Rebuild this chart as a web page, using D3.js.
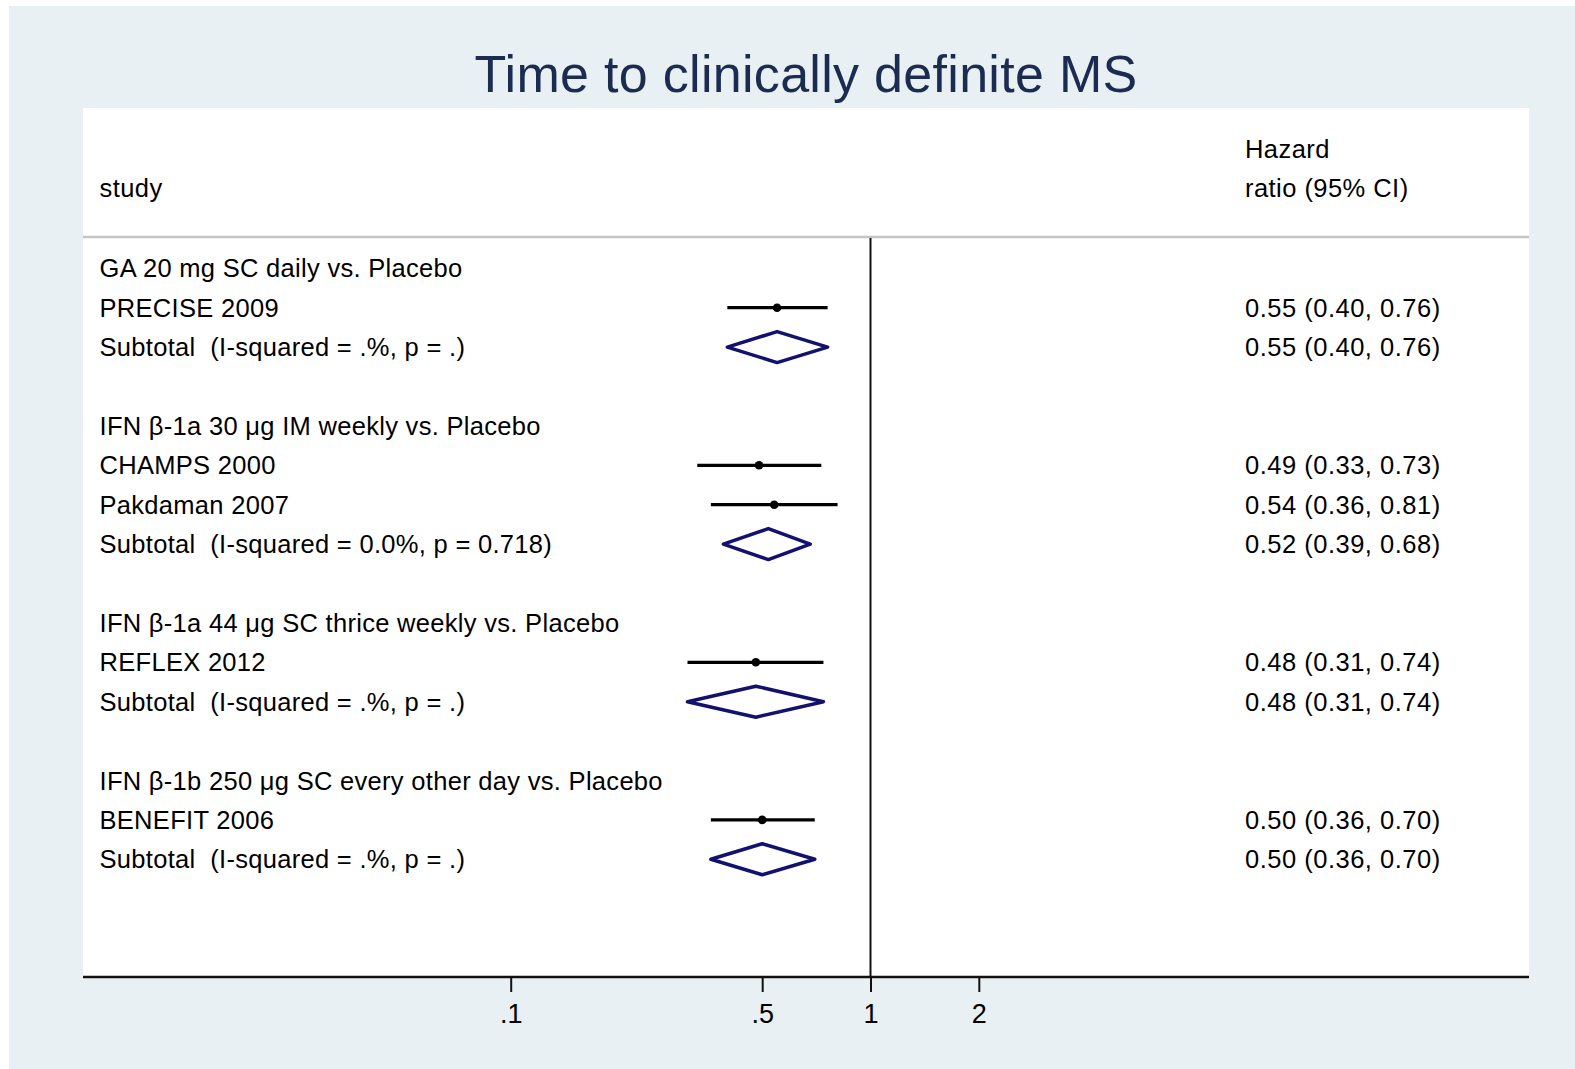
<!DOCTYPE html>
<html>
<head>
<meta charset="utf-8">
<script src="https://cdn.jsdelivr.net/npm/d3@7"></script>
<style>
  body { margin: 0; background: #fff; }
  text { font-family: "Liberation Sans", Arial, sans-serif; white-space: pre; }
</style>
</head>
<body>
<div id="chart"></div>
<script>
var width = 1575,
    height = 1069;

// data
var groups = [
  "GA 20 mg SC daily vs. Placebo",
  "IFN β-1a 30 μg IM weekly vs. Placebo",
  "IFN β-1a 44 μg SC thrice weekly vs. Placebo",
  "IFN β-1b 250 μg SC every other day vs. Placebo"
];
var studies   = ["PRECISE 2009", "CHAMPS 2000", "Pakdaman 2007", "REFLEX 2012", "BENEFIT 2006"];
var studyGrp  = [0, 1, 1, 2, 3];
var studyHR   = [0.55, 0.49, 0.54, 0.48, 0.50];
var studyLo   = [0.40, 0.33, 0.36, 0.31, 0.36];
var studyHi   = [0.76, 0.73, 0.81, 0.74, 0.70];
var subLabels = [
  "Subtotal  (I-squared = .%, p = .)",
  "Subtotal  (I-squared = 0.0%, p = 0.718)",
  "Subtotal  (I-squared = .%, p = .)",
  "Subtotal  (I-squared = .%, p = .)"
];
var subHR = [0.55, 0.52, 0.48, 0.50];
var subLo = [0.40, 0.39, 0.31, 0.36];
var subHi = [0.76, 0.68, 0.74, 0.70];
var tickValues = [0.1, 0.5, 1, 2];
var tickLabels = [".1", ".5", "1", "2"];

// build the list of rows
var rows = [], r = 0;
groups.forEach(function(g, gi) {
  rows.push({type: "head", label: g, row: r++});
  studies.forEach(function(s, si) {
    if (studyGrp[si] === gi)
      rows.push({type: "study", label: s, hr: studyHR[si], lo: studyLo[si], hi: studyHi[si], row: r++});
  });
  rows.push({type: "sub", label: subLabels[gi], hr: subHR[gi], lo: subLo[gi], hi: subHi[gi], row: r++});
  r++; // blank line
});

var fmt = d3.format(".2f");

var plot = {left: 83, right: 1529, top: 108, header: 237, axis: 977};

var x = d3.scaleLog()
    .domain([0.1, 1])
    .range([510.7, 870.5]);

var y = d3.scaleLinear()
    .domain([0, 15])
    .range([268.3, 268.3 + 15 * 39.4]);

var svg = d3.select("#chart").append("svg")
    .attr("width", width)
    .attr("height", height);

// background
svg.append("rect")
    .attr("x", 9).attr("y", 6)
    .attr("width", width - 9).attr("height", height - 6)
    .attr("fill", "#e8f0f3");

svg.append("rect")
    .attr("x", plot.left).attr("y", plot.top)
    .attr("width", plot.right - plot.left).attr("height", plot.axis - plot.top)
    .attr("fill", "#fff");

// title
svg.append("text")
    .attr("x", 806).attr("y", 92)
    .attr("text-anchor", "middle")
    .attr("font-size", 52)
    .attr("letter-spacing", 0.3)
    .attr("fill", "#1c2b50")
    .text("Time to clinically definite MS");

// header
var head = svg.append("g").attr("font-size", 25.5).attr("letter-spacing", 0.45).attr("fill", "#000");
head.append("text").attr("x", 99.5).attr("y", 197).text("study");
head.append("text").attr("x", 1245).attr("y", 158).text("Hazard");
head.append("text").attr("x", 1245).attr("y", 197).text("ratio (95% CI)");

svg.append("line")
    .attr("x1", plot.left).attr("x2", plot.right)
    .attr("y1", plot.header).attr("y2", plot.header)
    .attr("stroke", "#c4c4c4")
    .attr("stroke-width", 2.5);

// null line
svg.append("line")
    .attr("x1", x(1)).attr("x2", x(1))
    .attr("y1", plot.header + 1).attr("y2", plot.axis)
    .attr("stroke", "#111")
    .attr("stroke-width", 2);

// row labels
svg.append("g")
    .attr("font-size", 25.5)
    .attr("letter-spacing", 0.3)
  .selectAll("text")
    .data(rows)
  .enter().append("text")
    .attr("x", 99.5)
    .attr("y", function(d) { return y(d.row) + 9; })
    .text(function(d) { return d.label; });

// estimates column
svg.append("g")
    .attr("font-size", 25.5)
    .attr("letter-spacing", 0.5)
  .selectAll("text")
    .data(rows.filter(function(d) { return d.type !== "head"; }))
  .enter().append("text")
    .attr("x", 1245)
    .attr("y", function(d) { return y(d.row) + 9; })
    .text(function(d) { return fmt(d.hr) + " (" + fmt(d.lo) + ", " + fmt(d.hi) + ")"; });

// study CIs and points
var st = svg.append("g")
  .selectAll("g")
    .data(rows.filter(function(d) { return d.type === "study"; }))
  .enter().append("g");

st.append("line")
    .attr("x1", function(d) { return x(d.lo); })
    .attr("x2", function(d) { return x(d.hi); })
    .attr("y1", function(d) { return y(d.row); })
    .attr("y2", function(d) { return y(d.row); })
    .attr("stroke", "#000")
    .attr("stroke-width", 3.2);

st.append("circle")
    .attr("cx", function(d) { return x(d.hr); })
    .attr("cy", function(d) { return y(d.row); })
    .attr("r", 4.3)
    .attr("fill", "#000");

// subtotal diamonds
svg.append("g")
  .selectAll("path")
    .data(rows.filter(function(d) { return d.type === "sub"; }))
  .enter().append("path")
    .attr("d", function(d) {
      var cy = y(d.row), h = 15.5;
      return "M" + x(d.lo) + "," + cy +
             "L" + x(d.hr) + "," + (cy - h) +
             "L" + x(d.hi) + "," + cy +
             "L" + x(d.hr) + "," + (cy + h) + "Z";
    })
    .attr("fill", "none")
    .attr("stroke", "#12126e")
    .attr("stroke-width", 3.5)
    .attr("stroke-linejoin", "round");

// x axis
var axis = svg.append("g")
    .attr("transform", "translate(0," + plot.axis + ")")
    .call(d3.axisBottom(x)
      .tickValues(tickValues)
      .tickFormat(function(d, i) { return tickLabels[i]; })
      .tickSize(15)
      .tickPadding(12));

axis.select(".domain").remove();
axis.selectAll(".tick line").attr("stroke", "#111").attr("stroke-width", 2);
axis.selectAll(".tick text")
    .attr("font-family", "Liberation Sans, Arial, sans-serif")
    .attr("font-size", 27)
    .attr("fill", "#000");

svg.append("line")
    .attr("x1", plot.left).attr("x2", plot.right)
    .attr("y1", plot.axis).attr("y2", plot.axis)
    .attr("stroke", "#111")
    .attr("stroke-width", 2.5);
</script>
</body>
</html>
